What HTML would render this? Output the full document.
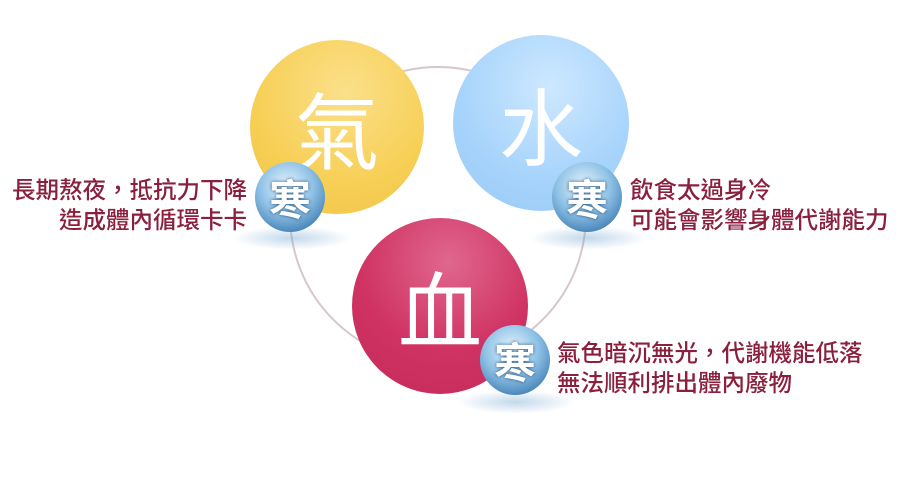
<!DOCTYPE html>
<html><head><meta charset="utf-8"><style>
body{margin:0;width:900px;height:480px;background:#fff;overflow:hidden;position:relative;font-family:"Liberation Sans","Noto Sans CJK TC",sans-serif}
.big{position:absolute;border-radius:50%;display:flex;align-items:center;justify-content:center;color:#fff;font-size:84px;font-family:"Noto Sans CJK TC",sans-serif;font-weight:400}
.small{position:absolute;width:70px;height:70px;border-radius:50%;background:radial-gradient(circle at 45% 35%,#e9f5fd 0%,#8fc2e6 45%,#3a78b0 85%,#2a5c8e 100%);display:flex;align-items:center;justify-content:center;color:#fff;font-size:42px;font-weight:bold;text-shadow:0 0 3px #1d4d7a;font-family:"Noto Sans CJK TC",sans-serif}
.shadow{position:absolute;width:120px;height:24px;border-radius:50%;background:radial-gradient(ellipse,rgba(120,170,210,.45),rgba(255,255,255,0) 70%)}
.txt{position:absolute;color:#8a1f3e;font-size:23.5px;line-height:30px;font-family:"Noto Sans CJK TC",sans-serif;font-weight:500;white-space:nowrap}
</style></head><body>
<svg style="position:absolute;left:0;top:0" width="900" height="480"><circle cx="438" cy="215" r="148" fill="none" stroke="#d8c6cf" stroke-width="2"/></svg>
<div class="big" style="left:250px;top:40px;width:174px;height:174px;background:radial-gradient(circle at 55% 30%,#fbe08a,#f7cf55 60%,#efc348)">氣</div>
<div class="big" style="left:453px;top:35px;width:176px;height:176px;background:radial-gradient(circle at 55% 30%,#cde8ff,#a6d3fb 60%,#98c9f3)">水</div>
<div class="big" style="left:352px;top:218px;width:176px;height:176px;background:radial-gradient(circle at 55% 25%,#e0678e,#cf3263 55%,#c42b5a)">血</div>
<div class="shadow" style="left:232px;top:226px"></div>
<div class="shadow" style="left:528px;top:226px"></div>
<div class="shadow" style="left:456px;top:390px"></div>
<div class="small" style="left:255px;top:162px">寒</div>
<div class="small" style="left:552px;top:162px">寒</div>
<div class="small" style="left:480px;top:325px">寒</div>
<div class="txt" style="right:653px;top:173px;text-align:right">長期熬夜，抵抗力下降<br>造成體內循環卡卡</div>
<div class="txt" style="left:630px;top:173px">飲食太過身冷<br>可能會影響身體代謝能力</div>
<div class="txt" style="left:557px;top:336px">氣色暗沉無光，代謝機能低落<br>無法順利排出體內廢物</div>
</body></html>
